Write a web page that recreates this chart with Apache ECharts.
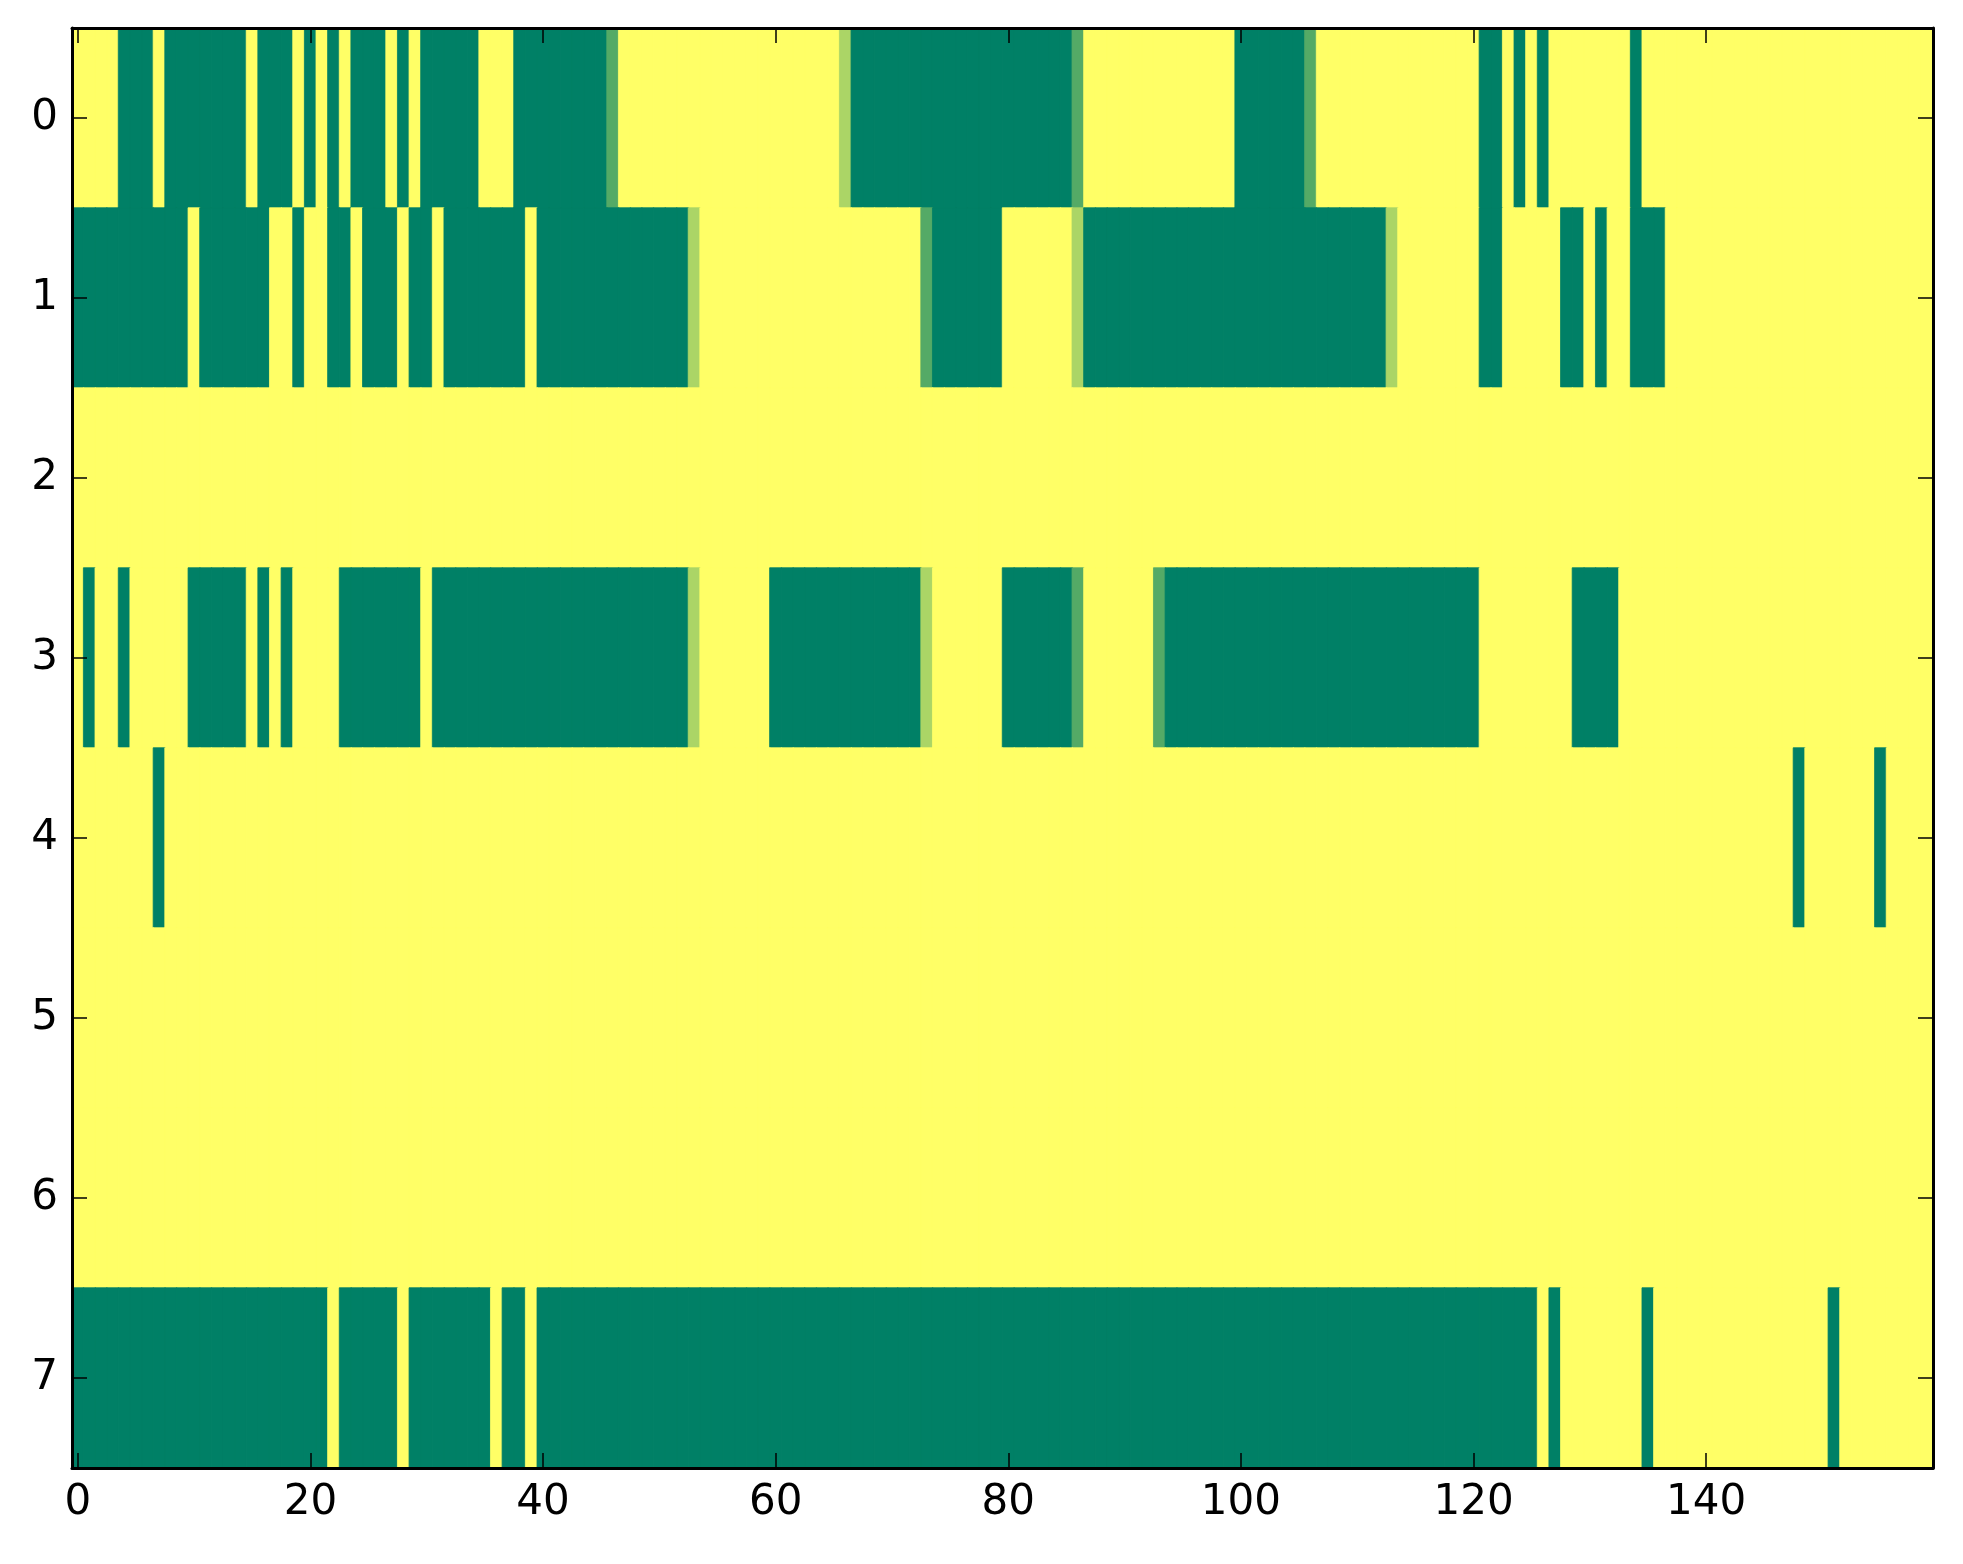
<!DOCTYPE html>
<html>
<head>
<meta charset="utf-8">
<script src="https://cdn.jsdelivr.net/npm/echarts@6/dist/echarts.min.js"></script>
<style>
html,body{margin:0;padding:0;background:#fff;}
#c{width:1963px;height:1564px;}
</style>
</head>
<body>
<div id="c"></div>
<script>
// Row values (0 = green end, 1 = yellow end of the "summer" colormap)
var row0 = [
1,1,1,1,0,0,0,1,0,0,0,0,0,0,0,1,0,0,0,1,
0,1,0,1,0,0,0,1,0,1,0,0,0,0,0,1,1,1,0,0,
0,0,0,0,0,0,0.33,1,1,1,1,1,1,1,1,1,1,1,1,1,
1,1,1,1,1,1,0.67,0,0,0,0,0,0,0,0,0,0,0,0,0,
0,0,0,0,0,0,0.33,1,1,1,1,1,1,1,1,1,1,1,1,1,
0,0,0,0,0,0,0.33,1,1,1,1,1,1,1,1,1,1,1,1,1,
1,0,0,1,0,1,0,1,1,1,1,1,1,1,0,1,1,1,1,1,
1,1,1,1,1,1,1,1,1,1,1,1,1,1,1,1,1,1,1,1];
var row1 = [
0,0,0,0,0,0,0,0,0,0,1,0,0,0,0,0,0,1,1,0,
1,1,0,0,1,0,0,0,1,0,0,1,0,0,0,0,0,0,0,1,
0,0,0,0,0,0,0,0,0,0,0,0,0,0.67,1,1,1,1,1,1,
1,1,1,1,1,1,1,1,1,1,1,1,1,0.33,0,0,0,0,0,0,
1,1,1,1,1,1,0.67,0,0,0,0,0,0,0,0,0,0,0,0,0,
0,0,0,0,0,0,0,0,0,0,0,0,0,0.67,1,1,1,1,1,1,
1,0,0,1,1,1,1,1,0,0,1,0,1,1,0,0,0,1,1,1,
1,1,1,1,1,1,1,1,1,1,1,1,1,1,1,1,1,1,1,1];
var row2 = [
1,1,1,1,1,1,1,1,1,1,1,1,1,1,1,1,1,1,1,1,
1,1,1,1,1,1,1,1,1,1,1,1,1,1,1,1,1,1,1,1,
1,1,1,1,1,1,1,1,1,1,1,1,1,1,1,1,1,1,1,1,
1,1,1,1,1,1,1,1,1,1,1,1,1,1,1,1,1,1,1,1,
1,1,1,1,1,1,1,1,1,1,1,1,1,1,1,1,1,1,1,1,
1,1,1,1,1,1,1,1,1,1,1,1,1,1,1,1,1,1,1,1,
1,1,1,1,1,1,1,1,1,1,1,1,1,1,1,1,1,1,1,1,
1,1,1,1,1,1,1,1,1,1,1,1,1,1,1,1,1,1,1,1];
var row3 = [
1,0,1,1,0,1,1,1,1,1,0,0,0,0,0,1,0,1,0,1,
1,1,1,0,0,0,0,0,0,0,1,0,0,0,0,0,0,0,0,0,
0,0,0,0,0,0,0,0,0,0,0,0,0,0.67,1,1,1,1,1,1,
0,0,0,0,0,0,0,0,0,0,0,0,0,0.67,1,1,1,1,1,1,
0,0,0,0,0,0,0.33,1,1,1,1,1,1,0.33,0,0,0,0,0,0,
0,0,0,0,0,0,0,0,0,0,0,0,0,0,0,0,0,0,0,0,
0,1,1,1,1,1,1,1,1,0,0,0,0,1,1,1,1,1,1,1,
1,1,1,1,1,1,1,1,1,1,1,1,1,1,1,1,1,1,1,1];
var row4 = [
1,1,1,1,1,1,1,0,1,1,1,1,1,1,1,1,1,1,1,1,
1,1,1,1,1,1,1,1,1,1,1,1,1,1,1,1,1,1,1,1,
1,1,1,1,1,1,1,1,1,1,1,1,1,1,1,1,1,1,1,1,
1,1,1,1,1,1,1,1,1,1,1,1,1,1,1,1,1,1,1,1,
1,1,1,1,1,1,1,1,1,1,1,1,1,1,1,1,1,1,1,1,
1,1,1,1,1,1,1,1,1,1,1,1,1,1,1,1,1,1,1,1,
1,1,1,1,1,1,1,1,1,1,1,1,1,1,1,1,1,1,1,1,
1,1,1,1,1,1,1,1,0,1,1,1,1,1,1,0,1,1,1,1];
var row5 = row2.slice();
var row6 = row2.slice();
var row7 = [
0,0,0,0,0,0,0,0,0,0,0,0,0,0,0,0,0,0,0,0,
0,0,1,0,0,0,0,0,1,0,0,0,0,0,0,0,1,0,0,1,
0,0,0,0,0,0,0,0,0,0,0,0,0,0,0,0,0,0,0,0,
0,0,0,0,0,0,0,0,0,0,0,0,0,0,0,0,0,0,0,0,
0,0,0,0,0,0,0,0,0,0,0,0,0,0,0,0,0,0,0,0,
0,0,0,0,0,0,0,0,0,0,0,0,0,0,0,0,0,0,0,0,
0,0,0,0,0,0,1,0,1,1,1,1,1,1,1,0,1,1,1,1,
1,1,1,1,1,1,1,1,1,1,1,0,1,1,1,1,1,1,1,1];

var rows = [row0,row1,row2,row3,row4,row5,row6,row7];
var xCategories = [];
for (var i = 0; i < 160; i++) xCategories.push(String(i));
var yCategories = ['0','1','2','3','4','5','6','7'];

// matplotlib "summer" colormap
function summer(v) {
  var r = Math.round(255 * v);
  var g = Math.round(255 * (0.5 + v / 2));
  return 'rgb(' + r + ',' + g + ',102)';
}

var data = [];
for (var r = 0; r < rows.length; r++) {
  for (var c = 0; c < rows[r].length; c++) {
    var col = summer(rows[r][c]);
    data.push({value: [c, r, rows[r][c]], itemStyle: {color: col, borderColor: col, borderWidth: 0.8}});
  }
}

var labelFont = {fontFamily: 'DejaVu Sans', fontSize: 42, color: '#000'};
var lineStyle = {color: '#000', width: 3};
var tickStyle = {color: '#000', width: 1.5};

var chart = echarts.init(document.getElementById('c'), null, {renderer: 'canvas'});
chart.setOption({
  animation: false,
  backgroundColor: '#fff',
  grid: {left: 72, top: 28, width: 1861, height: 1440, containLabel: false},
  xAxis: [{
    type: 'category', data: xCategories, position: 'bottom', z: 10,
    axisLine: {show: true, lineStyle: lineStyle},
    axisTick: {show: true, inside: true, length: 15, interval: 19, alignWithLabel: true, lineStyle: tickStyle},
    axisLabel: Object.assign({interval: 19, margin: 14}, labelFont),
    splitLine: {show: false}
  }, {
    type: 'category', data: xCategories, position: 'top', z: 10,
    axisLine: {show: true, onZero: false, lineStyle: lineStyle},
    axisTick: {show: true, inside: true, length: 15, interval: 19, alignWithLabel: true, lineStyle: tickStyle},
    axisLabel: {show: false}, splitLine: {show: false}
  }],
  yAxis: [{
    type: 'category', data: yCategories, inverse: true, position: 'left', z: 10,
    axisLine: {show: true, onZero: false, lineStyle: lineStyle},
    axisTick: {show: true, inside: true, length: 15, alignWithLabel: true, lineStyle: tickStyle},
    axisLabel: Object.assign({margin: 14}, labelFont),
    splitLine: {show: false}
  }, {
    type: 'category', data: yCategories, inverse: true, position: 'right', z: 10,
    axisLine: {show: true, onZero: false, lineStyle: lineStyle},
    axisTick: {show: true, inside: true, length: 15, alignWithLabel: true, lineStyle: tickStyle},
    axisLabel: {show: false}, splitLine: {show: false}
  }],
  series: [{
    type: 'heatmap', data: data, xAxisIndex: 0, yAxisIndex: 0,
    emphasis: {disabled: true}
  }]
});
</script>
</body>
</html>
